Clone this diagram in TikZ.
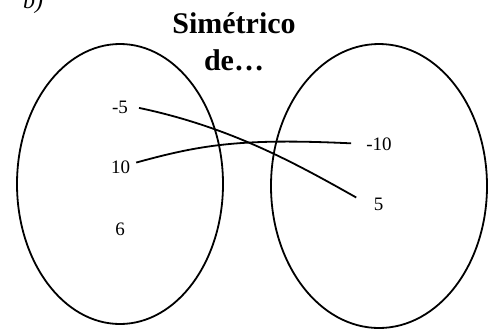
\documentclass[tikz,border=0pt]{standalone}
\usepackage{fontspec}
\setmainfont{Liberation Serif}
\usetikzlibrary{shapes.geometric}

\begin{document}
\begin{tikzpicture}[
    x=1pt, y=-1pt,
    conjunto/.style={draw, ellipse, line width=1.8pt, inner sep=0pt},
    num/.style={font=\fontsize{19}{22}\selectfont, inner sep=6pt, anchor=base},
    enlace/.style={line width=1.8pt}
]
    \useasboundingbox (0,0) rectangle (494,330);

    \node[font=\itshape\fontsize{24}{28}\selectfont, anchor=base] (item) at (33,8) {b)};
    \node[font=\bfseries\fontsize{30}{37}\selectfont, align=center, anchor=base] (titulo) at (234,70) {Simétrico\\de\ldots};

    \node[conjunto, minimum width=206pt, minimum height=280pt] (dominio) at (120,184) {};
    \node[conjunto, minimum width=216pt, minimum height=284pt] (imagen) at (379,186) {};

    \node[num] (menos5) at (120,113) {-5};
    \node[num] (diez) at (120.5,173) {10};
    \node[num] (seis) at (120,235) {6};
    \node[num] (menos10) at (379,150) {-10};
    \node[num] (cinco) at (378.5,210) {5};

    \draw[enlace, shorten <=5pt, shorten >=13pt] (menos5.east) .. controls (230,127) and (295,163) .. (cinco.west);
    \draw[enlace, shorten >=9pt] (diez.15) .. controls (200,145) and (240,138) .. (menos10.west);
\end{tikzpicture}
\end{document}
